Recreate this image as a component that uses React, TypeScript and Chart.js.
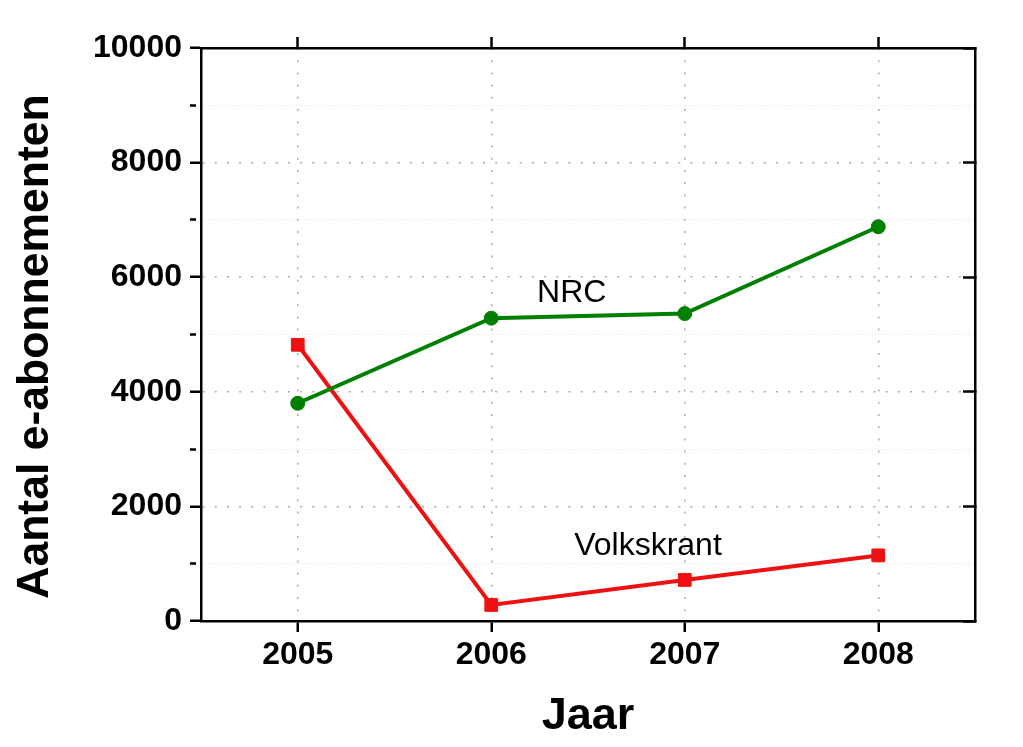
import React, { useEffect, useRef } from 'react';
import { Chart, registerables } from 'chart.js';

Chart.register(...registerables);

// ---- data ----
const years = ['2005', '2006', '2007', '2008'];
const nrcValues = [3800, 5285, 5365, 6880];
const volkskrantValues = [4820, 280, 716, 1145];
const seriesNames = ['NRC', 'Volkskrant'];
const xTitle = 'Jaar';
const yTitle = 'Aantal e-abonnementen';
// inline label anchors, in data units (category index, value)
const labelIndex = [1.416, 1.81];
const labelValue = [5567, 1152];

const FONT = "Arial, 'Liberation Sans', Helvetica, sans-serif";
const GREEN = '#008000';
const RED = '#ee1111';

const isMajor = (ctx: any) => {
  const v = ctx && ctx.tick ? ctx.tick.value : 0;
  return v % 2000 === 0;
};

const seriesLabelPlugin = {
  id: 'seriesLabels',
  afterDatasetsDraw(chart: any) {
    const { ctx, scales } = chart;
    const x = scales.x;
    const y = scales.y;
    ctx.save();
    ctx.font = `32px ${FONT}`;
    ctx.fillStyle = '#000';
    ctx.textAlign = 'center';
    ctx.textBaseline = 'alphabetic';
    seriesNames.forEach((t, i) => {
      ctx.fillText(t, x.getPixelForValue(labelIndex[i]), y.getPixelForValue(labelValue[i]));
    });
    ctx.restore();
  },
};

const yTitlePlugin = {
  id: 'yTitle',
  afterDraw(chart: any) {
    const { ctx, chartArea } = chart;
    const cy = (chartArea.top + chartArea.bottom) / 2 + 12;
    ctx.save();
    ctx.translate(36, cy);
    ctx.rotate(-Math.PI / 2);
    ctx.font = `bold 44.5px ${FONT}`;
    ctx.fillStyle = '#000';
    ctx.textAlign = 'center';
    ctx.textBaseline = 'middle';
    ctx.fillText(yTitle, 0, 0);
    ctx.restore();
  },
};

export default function App() {
  const ref = useRef<HTMLCanvasElement | null>(null);

  useEffect(() => {
    if (!ref.current) return;
    const chart = new Chart(ref.current, {
      type: 'line',
      data: {
        labels: years,
        datasets: [
          {
            label: seriesNames[0],
            data: nrcValues,
            borderColor: GREEN,
            backgroundColor: GREEN,
            borderWidth: 4,
            pointStyle: 'circle',
            pointRadius: 7,
            pointBorderWidth: 1,
            pointBackgroundColor: GREEN,
            pointBorderColor: GREEN,
            tension: 0,
            fill: false,
          },
          {
            label: seriesNames[1],
            data: volkskrantValues,
            borderColor: RED,
            backgroundColor: RED,
            borderWidth: 4,
            pointStyle: 'rect',
            pointRadius: 9,
            pointBorderWidth: 1,
            pointBackgroundColor: RED,
            pointBorderColor: RED,
            tension: 0,
            fill: false,
          },
        ],
      },
      options: {
        animation: false,
        responsive: true,
        maintainAspectRatio: false,
        layout: { padding: 0 },
        plugins: {
          legend: { display: false },
          tooltip: { enabled: false },
          title: { display: false },
        },
        scales: {
          x: {
            type: 'category',
            position: 'bottom',
            offset: true,
            grid: {
              display: true,
              drawOnChartArea: true,
              offset: false,
              color: '#a9a9a9',
              lineWidth: 1.5,
              tickColor: '#000',
              tickWidth: 2.5,
              tickLength: 11,
            },
            border: { display: true, color: '#000', width: 2.5, dash: [2, 10.2] },
            ticks: {
              color: '#000',
              font: { family: FONT, size: 32, weight: 'bold' },
              padding: 4,
              maxRotation: 0,
              autoSkip: false,
            },
            title: {
              display: true,
              text: xTitle,
              color: '#000',
              font: { family: FONT, size: 45, weight: 'bold' },
              padding: { top: 0, bottom: 3 },
            },
            afterFit: (s: any) => {
              s.height = 126;
            },
          },
          x2: {
            type: 'category',
            position: 'top',
            labels: years,
            offset: true,
            grid: {
              display: true,
              drawOnChartArea: false,
              offset: false,
              tickColor: '#000',
              tickWidth: 2.5,
              tickLength: 11,
            },
            border: { display: true, color: '#000', width: 2.5 },
            ticks: { display: false },
            afterFit: (s: any) => {
              s.height = 48;
            },
          },
          y: {
            type: 'linear',
            position: 'left',
            min: 0,
            max: 10000,
            grid: {
              display: true,
              drawOnChartArea: true,
              color: (ctx: any) => (isMajor(ctx) ? '#a9a9a9' : '#e2e2e2'),
              lineWidth: (ctx: any) => (isMajor(ctx) ? 1.5 : 1),
              tickColor: '#000',
              tickWidth: 2.5,
              tickLength: 11,
              tickBorderDash: (ctx: any) => (isMajor(ctx) ? [] : [6, 100]),
            },
            border: {
              display: true,
              color: '#000',
              width: 2.5,
              dash: (ctx: any) => (isMajor(ctx) ? [2, 10.2] : [1, 2]),
            },
            ticks: {
              stepSize: 1000,
              color: '#000',
              font: { family: FONT, size: 32, weight: 'bold' },
              padding: 8,
              autoSkip: false,
              callback: (v: any) => (Number(v) % 2000 === 0 ? String(v) : ''),
            },
            title: { display: false },
            afterFit: (s: any) => {
              s.width = 201;
            },
          },
          y2: {
            type: 'linear',
            position: 'right',
            min: 0,
            max: 10000,
            grid: {
              display: true,
              drawOnChartArea: false,
              tickColor: '#000',
              tickWidth: 2.5,
              tickLength: -12,
            },
            border: { display: true, color: '#000', width: 2.5 },
            ticks: { display: false, stepSize: 2000 },
            afterFit: (s: any) => {
              s.width = 48;
            },
          },
        },
      } as any,
      plugins: [seriesLabelPlugin, yTitlePlugin],
    });
    return () => chart.destroy();
  }, []);

  return (
    <div
      style={{
        position: 'fixed',
        left: 0,
        top: 0,
        width: 1023,
        height: 747,
        background: '#fff',
      }}
    >
      <canvas ref={ref} />
    </div>
  );
}
